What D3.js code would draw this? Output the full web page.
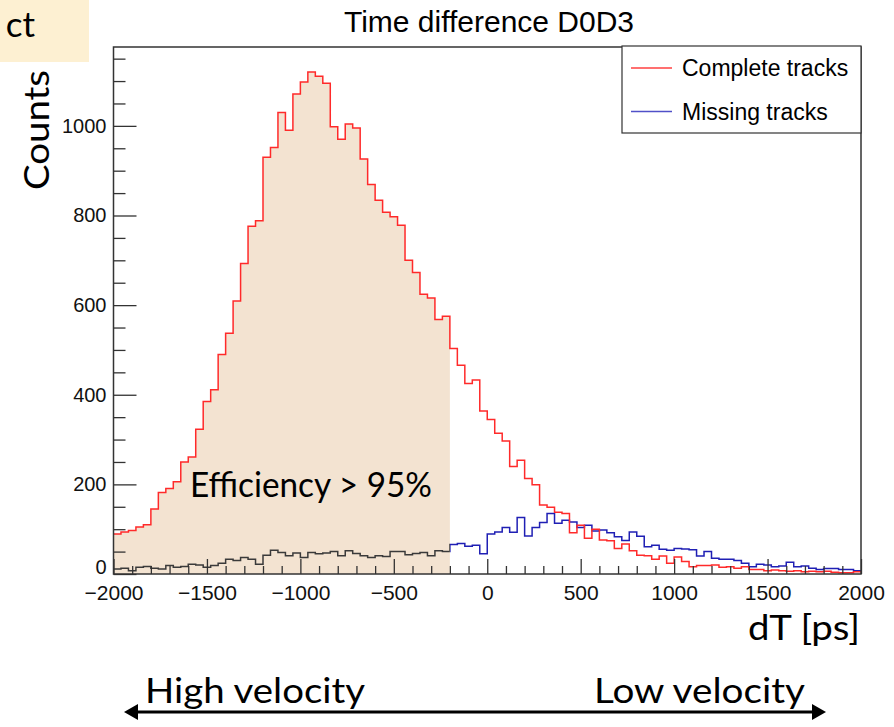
<!DOCTYPE html>
<html>
<head>
<meta charset="utf-8">
<script src="https://cdn.jsdelivr.net/npm/d3@7"></script>
<style>
  body { margin: 0; background: #fff; }
  svg { display: block; }
</style>
</head>
<body>
<script>
// 100 bins of 40 ps from -2000 to 2000
var binStart = -2000;
var binWidth = 40;

var completeTracks = [
  89, 94, 97, 105, 110, 145, 182, 191, 206, 250, 261, 323, 385, 411, 490, 537, 609, 693, 776, 788, 930, 952, 1030, 990, 1071,
  1098, 1120, 1111, 1095, 998, 970, 1004, 995, 926, 869, 834, 807, 797, 778, 700, 673, 624, 616, 568, 575, 503, 466, 425, 433, 364,
  345, 314, 297, 240, 254, 213, 199, 154, 149, 138, 135, 92, 109, 80, 100, 76, 74, 57, 67, 52, 42, 41, 33, 40, 24,
  38, 28, 16, 19, 19, 20, 15, 16, 13, 16, 10, 10, 7, 9, 7, 6, 7, 5, 6, 5, 6, 4, 3, 3, 5
];

var missingTracks = [
  11, 13, 7, 15, 17, 13, 11, 19, 15, 17, 22, 20, 15, 19, 24, 33, 30, 37, 33, 22, 42, 53, 48, 41, 47,
  37, 48, 45, 47, 50, 41, 52, 46, 41, 37, 41, 39, 50, 50, 43, 46, 48, 41, 52, 50, 66, 68, 62, 64, 45,
  89, 94, 104, 93, 126, 85, 104, 115, 135, 113, 120, 116, 104, 109, 96, 98, 92, 83, 75, 94, 84, 61, 64, 55, 53,
  57, 56, 54, 40, 50, 35, 33, 33, 30, 24, 16, 22, 20, 16, 18, 26, 16, 18, 13, 10, 12, 12, 10, 10, 7
];

var xMajor = [-2000, -1500, -1000, -500, 0, 500, 1000, 1500, 2000];
var yMajor = [0, 200, 400, 600, 800, 1000];
var legendNames = ["Complete tracks", "Missing tracks"];
var cut = -200;

var svgWidth = 894;
var svgHeight = 727;

var svg = d3.select("body")
  .append("svg")
  .attr("width", svgWidth)
  .attr("height", svgHeight);

var xScale = d3.scaleLinear().domain([-2000, 2000]).range([113.5, 861]);
var yScale = d3.scaleLinear().domain([0, 1176]).range([574, 47]);

// histogram -> step points (last bin repeated on the right edge)
function toSteps(values) {
  var pts = values.map(function(v, i) { return [binStart + i * binWidth, v]; });
  pts.push([binStart + values.length * binWidth, values[values.length - 1]]);
  return pts;
}

var stepLine = d3.line()
  .x(function(d) { return xScale(d[0]); })
  .y(function(d) { return yScale(d[1]); })
  .curve(d3.curveStepAfter);

// "ct" box at top left
svg.append("rect")
  .attr("x", 0).attr("y", 0)
  .attr("width", 89).attr("height", 62)
  .attr("fill", "#fdf0d2");
svg.append("text")
  .attr("x", 35).attr("y", 37)
  .attr("text-anchor", "end")
  .style("font-family", "Lato, 'Open Sans', sans-serif")
  .style("font-size", "35px")
  .text("ct");

// shaded region under the complete-tracks curve up to the cut
var nCut = (cut - binStart) / binWidth;
var shadePts = toSteps(completeTracks.slice(0, nCut));
svg.append("path")
  .datum(shadePts)
  .attr("fill", "#f3e3d1")
  .attr("d", d3.area()
    .x(function(d) { return xScale(d[0]); })
    .y0(yScale(0))
    .y1(function(d) { return yScale(d[1]); })
    .curve(d3.curveStepAfter));

// clip paths to colour the missing tracks differently left / right of the cut
var defs = svg.append("defs");
defs.append("clipPath").attr("id", "clipLeft")
  .append("rect")
  .attr("x", xScale(-2000) - 2).attr("y", 0)
  .attr("width", xScale(cut) - xScale(-2000) + 2).attr("height", svgHeight);
defs.append("clipPath").attr("id", "clipRight")
  .append("rect")
  .attr("x", xScale(cut)).attr("y", 0)
  .attr("width", xScale(2000) - xScale(cut) + 2).attr("height", svgHeight);

var missPts = toSteps(missingTracks);
svg.append("path")
  .datum(missPts)
  .attr("clip-path", "url(#clipLeft)")
  .attr("fill", "none")
  .attr("stroke", "#3a3a3a")
  .attr("stroke-width", 1.5)
  .attr("d", stepLine);
svg.append("path")
  .datum(missPts)
  .attr("clip-path", "url(#clipRight)")
  .attr("fill", "none")
  .attr("stroke", "#1f1fb4")
  .attr("stroke-width", 1.5)
  .attr("d", stepLine);

svg.append("path")
  .datum(toSteps(completeTracks))
  .attr("fill", "none")
  .attr("stroke", "#ff2a2a")
  .attr("stroke-width", 1.5)
  .attr("d", stepLine);

// axes
var tickFont = "'Liberation Sans', Arial, sans-serif";

var xMinor = d3.range(-2000, 2001, 100).filter(function(v) { return v % 500 !== 0; });
svg.append("g")
  .attr("transform", "translate(0," + yScale(0) + ")")
  .call(d3.axisBottom(xScale).tickValues(xMinor).tickSize(-8).tickFormat(""))
  .call(function(g) { g.select(".domain").remove(); });

var xAxis = svg.append("g")
  .attr("transform", "translate(0," + yScale(0) + ")")
  .call(d3.axisBottom(xScale).tickValues(xMajor).tickSize(-15).tickPadding(7)
    .tickFormat(function(d) { return d < 0 ? "\u2212" + Math.abs(d) : d; }));
xAxis.select(".domain").remove();
xAxis.selectAll("text")
  .attr("dy", "0.9em")
  .style("font-family", tickFont)
  .style("font-size", "21px")
  .attr("fill", "#111");

var yMinor = d3.range(0, 1176, 50).filter(function(v) { return v % 200 !== 0; });
svg.append("g")
  .attr("transform", "translate(" + xScale(-2000) + ",0)")
  .call(d3.axisLeft(yScale).tickValues(yMinor).tickSize(-12).tickFormat(""))
  .call(function(g) { g.select(".domain").remove(); });

var yAxis = svg.append("g")
  .attr("transform", "translate(" + xScale(-2000) + ",0)")
  .call(d3.axisLeft(yScale).tickValues(yMajor).tickSize(-23).tickPadding(7)
    .tickFormat(d3.format("d")));
yAxis.select(".domain").remove();
yAxis.selectAll("text")
  .style("font-family", tickFont)
  .style("font-size", "20px")
  .attr("fill", "#111");
// the zero label sits a little higher, clear of "-2000"
yAxis.selectAll("text").filter(function(d) { return d === 0; })
  .attr("dy", "-0.05em");

svg.selectAll(".tick line").attr("stroke", "#333").attr("stroke-width", 1.3);

// frame
svg.append("rect")
  .attr("x", xScale(-2000)).attr("y", yScale(1176))
  .attr("width", xScale(2000) - xScale(-2000))
  .attr("height", yScale(0) - yScale(1176))
  .attr("fill", "none")
  .attr("stroke", "#333")
  .attr("stroke-width", 1.5);

// title
svg.append("text")
  .attr("x", 489).attr("y", 32)
  .attr("text-anchor", "middle")
  .style("font-family", tickFont)
  .style("font-size", "30px")
  .text("Time difference D0D3");

// legend
var legend = svg.append("g");
legend.append("rect")
  .attr("x", 622).attr("y", 46)
  .attr("width", 239).attr("height", 87)
  .attr("fill", "#fff")
  .attr("stroke", "#333")
  .attr("stroke-width", 1.2);
var legendColors = ["#ff4040", "#5050c8"];
legendNames.forEach(function(name, i) {
  var ly = 68 + i * 43.5;
  legend.append("line")
    .attr("x1", 631).attr("x2", 672)
    .attr("y1", ly).attr("y2", ly)
    .attr("stroke", legendColors[i])
    .attr("stroke-width", 1.5);
  legend.append("text")
    .attr("x", 682).attr("y", ly + 8)
    .style("font-family", tickFont)
    .style("font-size", "23px")
    .text(name);
});

// annotations
var noteFont = "Lato, 'Open Sans', sans-serif";

function note(x, y, txt, len, anchor) {
  return svg.append("text")
    .attr("x", x).attr("y", y)
    .attr("text-anchor", anchor || "start")
    .attr("textLength", len)
    .attr("lengthAdjust", "spacingAndGlyphs")
    .style("font-family", noteFont)
    .style("font-size", "34px")
    .text(txt);
}

note(190, 497, "Efficiency > 95%", 242);
note(748, 640, "dT [ps]", 112);
note(145, 703, "High velocity", 220);
note(594, 703, "Low velocity", 211);

svg.append("text")
  .attr("transform", "translate(49,130) rotate(-90)")
  .attr("text-anchor", "middle")
  .attr("textLength", 120)
  .attr("lengthAdjust", "spacingAndGlyphs")
  .style("font-family", noteFont)
  .style("font-size", "34px")
  .text("Counts");

// double arrow
svg.append("line")
  .attr("x1", 134).attr("x2", 816)
  .attr("y1", 712).attr("y2", 712)
  .attr("stroke", "#000")
  .attr("stroke-width", 3);
svg.append("path")
  .attr("d", "M124,712 L138,704 L138,720 Z")
  .attr("fill", "#000");
svg.append("path")
  .attr("d", "M826,712 L812,704 L812,720 Z")
  .attr("fill", "#000");
</script>
</body>
</html>
